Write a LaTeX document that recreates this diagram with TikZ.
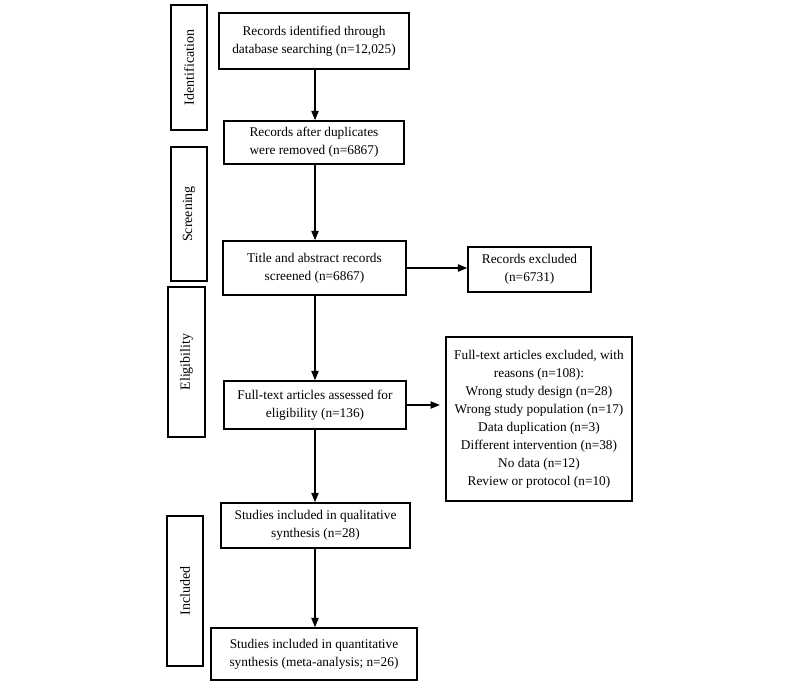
\documentclass[tikz,border=0pt]{standalone}
\usepackage{fontspec}
\setmainfont{Liberation Serif}
\usetikzlibrary{arrows.meta}
\begin{document}
\begin{tikzpicture}[x=0.75pt,y=-0.75pt,
  box/.style={draw,line width=1.2pt,align=center,inner sep=0pt,font=\fontsize{10}{13.5}\selectfont},
  side/.style={draw,line width=1.2pt,inner sep=0pt},
  sidelabel/.style={rotate=90,inner sep=0pt,font=\fontsize{10.5}{13.5}\selectfont},
  arr/.style={line width=0.9pt,-{Triangle[length=7pt,width=5.5pt]}}]
\useasboundingbox (0,0) rectangle (800,686);
\coordinate (ax) at (315,0);
% side boxes
\node[side,minimum width=36*0.75pt,minimum height=125*0.75pt] (sid) at (189,67.5) {};
\node[sidelabel] (lid) at (sid.center) {Identification};
\node[side,minimum width=36*0.75pt,minimum height=134*0.75pt] (ssc) at (189,214) {};
\node[sidelabel] (lsc) at (ssc.center) {Screening};
\node[side,minimum width=37*0.75pt,minimum height=150*0.75pt] (sel) at (186.5,362) {};
\node[sidelabel] (lel) at (sel.center) {Eligibility};
\node[side,minimum width=36*0.75pt,minimum height=150*0.75pt] (sin) at (185,591) {};
\node[sidelabel] (lin) at (sin.center) {Included};
% main boxes
\node[box,minimum width=190*0.75pt,minimum height=56*0.75pt] (b1) at (314,41) {Records identified through\\database searching (n=12,025)};
\node[box,minimum width=180*0.75pt,minimum height=43*0.75pt] (b2) at (314,142.5) {Records after duplicates\\were removed (n=6867)};
\node[box,minimum width=183*0.75pt,minimum height=54*0.75pt] (b3) at (314.5,268) {Title and abstract records\\screened (n=6867)};
\node[box,minimum width=123*0.75pt,minimum height=45*0.75pt] (e1) at (529.5,269.5) {Records excluded\\(n=6731)};
\node[box,minimum width=182*0.75pt,minimum height=48*0.75pt] (b4) at (315,405) {Full-text articles assessed for\\eligibility (n=136)};
\node[box,minimum width=186*0.75pt,minimum height=164*0.75pt] (e2) at (539,419) {Full-text articles excluded, with\\reasons (n=108):\\Wrong study design (n=28)\\Wrong study population (n=17)\\Data duplication (n=3)\\Different intervention (n=38)\\No data (n=12)\\Review or protocol (n=10)};
\node[box,minimum width=189*0.75pt,minimum height=45*0.75pt] (b5) at (315.5,525.5) {Studies included in qualitative\\synthesis (n=28)};
\node[box,minimum width=206*0.75pt,minimum height=52*0.75pt] (b6) at (314,654) {Studies included in quantitative\\synthesis (meta-analysis; n=26)};
% arrows
\draw[arr] (b1.south -| ax) -- (b2.north -| ax);
\draw[arr] (b2.south -| ax) -- (b3.north -| ax);
\draw[arr] (b3.east) -- (b3.east -| e1.west);
\draw[arr] (b3.south -| ax) -- (b4.north -| ax);
\draw[arr,shorten >=4pt] (b4.east) -- (b4.east -| e2.west);
\draw[arr] (b4.south -| ax) -- (b5.north -| ax);
\draw[arr] (b5.south -| ax) -- (b6.north -| ax);
\end{tikzpicture}
\end{document}
